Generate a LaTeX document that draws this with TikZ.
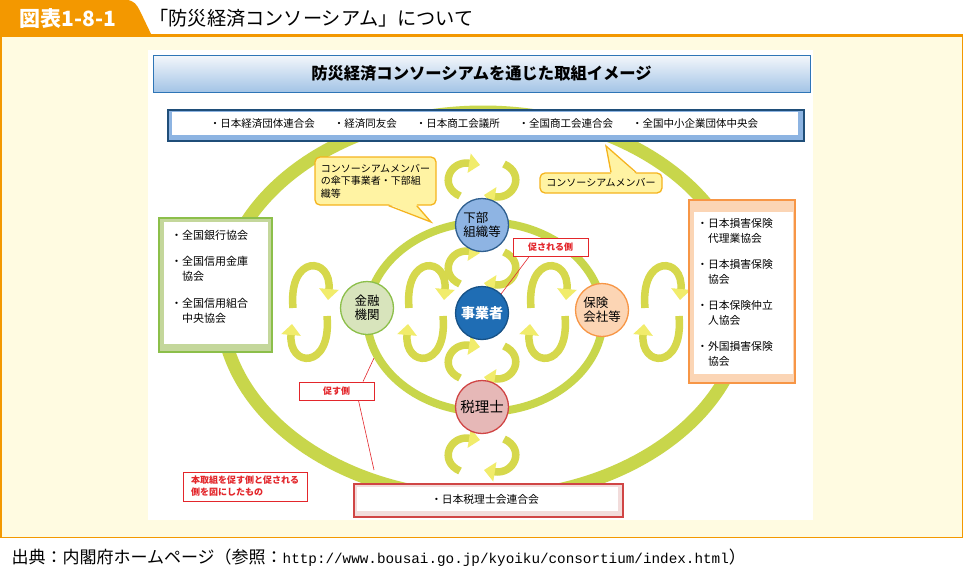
\documentclass[tikz,border=0pt]{standalone}
\usepackage{fontspec}
\setmainfont{Noto Sans CJK JP}
\newfontfamily\urlfont{Liberation Mono}
\usetikzlibrary{arrows.meta,calc,positioning}
\definecolor{hdorange}{HTML}{F39800}
\definecolor{paper}{HTML}{FFFBE1}
\definecolor{ringgreen}{HTML}{C8D64B}
\definecolor{cycbody}{HTML}{D6D84C}
\definecolor{cychead}{HTML}{F1EC6B}
\definecolor{barline}{HTML}{2E75B6}
\definecolor{bartop}{HTML}{F4F7FB}
\definecolor{barbot}{HTML}{A3C4E6}
\definecolor{orgline}{HTML}{1F4E79}
\definecolor{orgband}{HTML}{8DB4E2}
\definecolor{bankline}{HTML}{8CBF4A}
\definecolor{bankband}{HTML}{C4D79B}
\definecolor{bankfill}{HTML}{D8E4BC}
\definecolor{insline}{HTML}{F79646}
\definecolor{insband}{HTML}{FBD5B5}
\definecolor{insfill}{HTML}{FCD5B4}
\definecolor{taxline}{HTML}{D04545}
\definecolor{taxband}{HTML}{F2DCDB}
\definecolor{taxfill}{HTML}{E6B8B7}
\definecolor{subfill}{HTML}{8EB4E3}
\definecolor{subline}{HTML}{2F5F8F}
\definecolor{bizfill}{HTML}{1F6DB4}
\definecolor{calfill}{HTML}{FFF3A3}
\definecolor{calline}{HTML}{F5B41E}
\definecolor{lblred}{HTML}{E3262B}
\newcommand{\fsz}[2]{\fontsize{#1}{#2}\selectfont}

\begin{document}
\begin{tikzpicture}[x=1pt,y=-1pt,
  ring/.style={draw=ringgreen},
  turn/.style={draw=cycbody,line width=7.5pt,-{Triangle[width=19pt,length=11pt,color=cychead]}},
  panel/.style={line width=1.5pt,inner sep=0pt},
  unit/.style={circle,minimum size=53pt,inner sep=0pt,line width=1.3pt,align=left,font=\fsz{12.5}{14.5}},
  callout/.style={draw=calline,fill=calfill,line width=1.3pt,rounded corners=5pt,inner xsep=5pt,font=\fsz{10}{12.5}},
  redlbl/.style={draw=lblred,fill=white,text=lblred,line width=0.8pt,font=\bfseries\fsz{9}{12}},
  redwire/.style={draw=lblred,line width=0.6pt}]
\useasboundingbox (0,0) rectangle (963,573);
\fill[white] (0,0) rectangle (963,573);

\draw[hdorange,line width=1.5pt,fill=paper] (0.75,35) rectangle (962.25,537.25);
\draw[hdorange,line width=3pt] (0,35) -- (963,35);
\fill[hdorange] (0,0) -- (126,0) .. controls (134,0) and (137,5) .. (140,11) -- (152,36) -- (0,36) -- cycle;
\node (fig) [text=white,font=\bfseries\fsz{21}{24}] at (68,18) {図表1-8-1};
\node (head) [anchor=west,font=\fsz{19.2}{22}] at (146,18) {「防災経済コンソーシアム」について};
\node (src) [anchor=west,font=\fsz{17}{20}] at (8,558) {出典：内閣府ホームページ（参照：{\urlfont\fsz{14.3}{18}http://www.bousai.go.jp/kyoiku/consortium/index.html}）};

\fill[white] (148,50) rectangle (813,520);
\node (bar) [draw=barline,line width=1pt,top color=bartop,bottom color=barbot,minimum width=657pt,minimum height=37pt,font=\bfseries\fsz{16.3}{18}] at (481.5,73.5) {防災経済コンソーシアムを通じた取組イメージ};

\draw[ring,line width=13pt] (483,305) ellipse [x radius=262pt,y radius=193pt];
\draw[ring,line width=8pt] (485,317) ellipse [x radius=118pt,y radius=95pt];

\foreach \cy in {180,268,362,455} {
  \begin{scope}[shift={(482,\cy)}]
    \draw[turn] (-22,16) .. controls (-44,6) and (-32,-20) .. (-2,-15);
    \draw[turn] (22,-16) .. controls (44,-6) and (32,20) .. (2,15);
  \end{scope}
}
\foreach \cx in {310,426,548,662} {
  \begin{scope}[shift={(\cx,312)}]
    \draw[turn] (-17,-4) .. controls (-22,-58) and (22,-56) .. (18,-12);
    \draw[turn] (17,4) .. controls (22,58) and (-22,56) .. (-18,12);
  \end{scope}
}

\node (orgs) [panel,draw=orgline,fill=orgband,minimum width=636pt,minimum height=31pt] at (486,125.5) {};
\fill[white] ($(orgs.north west)+(5,3)$) rectangle ($(orgs.south east)+(-7,-7)$);
\node (orglist) [font=\fsz{10.5}{13}] at (484,123.5) {・日本経済団体連合会\hspace{1.8em}・経済同友会\hspace{1.8em}・日本商工会議所\hspace{1.8em}・全国商工会連合会\hspace{1.8em}・全国中小企業団体中央会};

\node (banks) [panel,draw=bankline,fill=bankband,minimum width=113pt,minimum height=134pt] at (215.5,285) {};
\fill[white] ($(banks.north west)+(6,5)$) rectangle ($(banks.south east)+(-5,-9)$);
\node (banklist) [anchor=north west,align=left,inner sep=0pt,font=\fsz{11}{15}] at (171,230) {・全国銀行協会\\[11pt]・全国信用金庫\\\hspace{1em}協会\\[12pt]・全国信用組合\\\hspace{1em}中央協会};

\node (insurers) [panel,draw=insline,fill=insband,minimum width=106pt,minimum height=183pt] at (742,291.5) {};
\fill[white] ($(insurers.north west)+(6,13)$) rectangle ($(insurers.south east)+(-3,-10)$);
\node (inslist) [anchor=north west,align=left,inner sep=0pt,font=\fsz{10.8}{15}] at (697,218) {・日本損害保険\\\hspace{1em}代理業協会\\[11pt]・日本損害保険\\\hspace{1em}協会\\[11pt]・日本保険仲立\\\hspace{1em}人協会\\[11pt]・外国損害保険\\\hspace{1em}協会};

\node (taxorg) [panel,draw=taxline,fill=taxband,minimum width=269pt,minimum height=33pt] at (488.5,500.5) {};
\fill[white] ($(taxorg.north west)+(4,4)$) rectangle ($(taxorg.south east)+(-6,-7)$);
\node (taxlist) [font=\fsz{10.8}{13}] at (485,499) {・日本税理士会連合会};

\node (memsub) [callout,minimum width=121pt,minimum height=48pt,align=left] at (375.5,181) {コンソーシアムメンバー\\の傘下事業者・下部組\\織等};
\coordinate (tipL) at (431,222);
\fill[calfill] ($(memsub.south east)+(-48,-1.5)$) -- (tipL) -- ($(memsub.south east)+(-20,-1.5)$) -- cycle;
\draw[calline,line width=1.3pt] ($(memsub.south east)+(-48,0)$) -- (tipL) -- ($(memsub.south east)+(-20,0)$);

\node (mem) [callout,minimum width=122pt,minimum height=20pt] at (601,183) {コンソーシアムメンバー};
\coordinate (tipR) at (606,146);
\fill[calfill] ($(mem.north)+(10,1.5)$) -- (tipR) -- ($(mem.north)+(35,1.5)$) -- cycle;
\draw[calline,line width=1.3pt] ($(mem.north)+(10,0)$) -- (tipR) -- ($(mem.north)+(35,0)$);

\node (kabu) [unit,fill=subfill,draw=subline] at (482,225) {下部\\組織等};
\node (jigyo) [unit,fill=bizfill,draw=bizfill!75!black,text=white,font=\bfseries\fsz{14}{16}] at (482,313) {事業者};
\node (kinyu) [unit,fill=bankfill,draw=bankline] at (367,308) {金融\\機関};
\node (hoken) [unit,fill=insfill,draw=insline] at (602,310) {保険\\会社等};
\node (zeiri) [unit,fill=taxfill,draw=taxline,font=\fsz{14.5}{16}] at (482,407) {税理士};

\node (sokusareru) [redlbl,minimum width=75pt,minimum height=18pt] at (550.5,247) {促される側};
\node (sokusu) [redlbl,minimum width=75pt,minimum height=18pt] at (336.5,391) {促す側};
\node (note) [redlbl,minimum width=124pt,minimum height=29pt,align=left] at (245,486.5) {本取組を促す側と促される\\側を図にしたもの};
\coordinate (ringL) at (374,358);
\coordinate (ringO) at (374,470);
\draw[redwire] ($(sokusareru.south west)!0.22!(sokusareru.south east)$) -- (jigyo.north east);
\draw[redwire] ($(sokusu.north west)!0.85!(sokusu.north east)$) -- (ringL);
\draw[redwire] ($(sokusu.south west)!0.79!(sokusu.south east)$) -- (ringO);
\end{tikzpicture}
\end{document}
